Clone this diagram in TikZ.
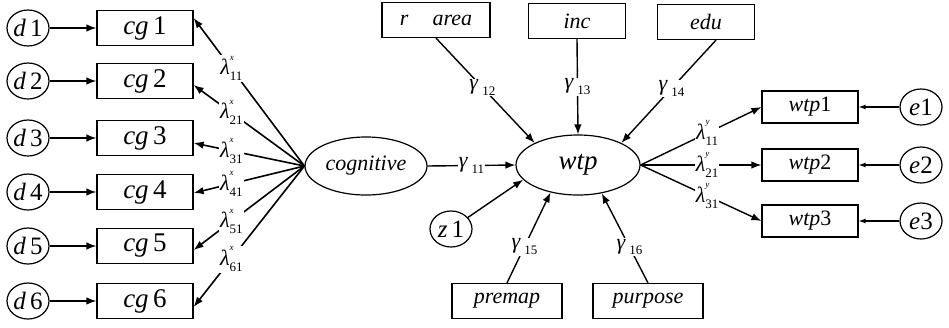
\documentclass[tikz,border=0pt]{standalone}
\usepackage{fontspec}
\setmainfont{Liberation Serif}
\usetikzlibrary{arrows.meta,shapes.geometric,calc}

% loading coefficient: lambda with superscript and subscript
\newcommand{\lamx}[2]{\textit{λ}\makebox[0pt][l]{\raisebox{1.45ex}{\fontsize{9}{9}\selectfont\textit{#1}}}\raisebox{-0.6ex}{\fontsize{13}{13}\selectfont #2}}
% path coefficient: gamma with subscript
\newcommand{\gam}[1]{\textit{γ}\,\raisebox{-0.55ex}{\fontsize{13}{13}\selectfont #1}}

\begin{document}
\begin{tikzpicture}[x=1pt,y=-1pt,
  obsbox/.style={draw, line width=1.2pt, minimum width=96pt, minimum height=35pt,
    inner sep=0pt, font=\fontsize{27}{27}\selectfont},
  smallbox/.style={obsbox, font=\fontsize{22}{22}\selectfont},
  errnode/.style={draw, ellipse, line width=1.2pt, minimum width=42pt,
    minimum height=36pt, inner sep=0pt, font=\fontsize{25}{25}\selectfont},
  latent/.style={draw, ellipse, line width=1.2pt, inner sep=0pt},
  arr/.style={-{Latex[length=10pt,width=7.5pt]}, line width=1.4pt},
  arrL/.style={-{Latex[length=10pt,width=7.5pt]}, line width=1.6pt},
  lab/.style={fill=white, inner sep=1pt, font=\fontsize{22}{22}\selectfont}]

\useasboundingbox (0,0) rectangle (949,327);

% latent variables
\node[latent, minimum width=122pt, minimum height=58pt,
  font=\fontsize{22}{22}\selectfont] (cog) at (366,166) {\textit{cognitive}};
\node[latent, minimum width=124pt, minimum height=60pt,
  font=\fontsize{27}{27}\selectfont] (wtp) at (578,165) {\textit{wtp}};

% indicators of the cognitive factor with their error terms
\foreach \i/\y/\s in {1/28/10,2/81/-4,3/138/-5,4/192/-1,5/246/-4,6/301/-6} {
  \node[errnode] (d\i) at (28,\y) {\textit{d}\,\i};
  \node[obsbox] (cg\i) at (145,\y) {\textit{cg}\,\i};
  \draw[arr] (d\i) -- (cg\i);
  \draw[arrL] (cog.west) -- node[lab, pos=0.66] {\lamx{x}{\i1}}
    ([yshift=\s pt]cg\i.east);
}

% exogenous covariates
\node[smallbox, minimum width=108pt] (rarea) at (436,20) {\textit{r\hspace{1.1em}area}};
\node[smallbox, minimum width=97pt] (inc) at (577,21) {\textit{inc}};
\node[smallbox, minimum width=97pt] (edu) at (706,22) {\textit{edu}};
\node[smallbox, minimum width=110pt] (premap) at (507,301) {\textit{premap}};
\node[smallbox, minimum width=110pt] (purpose) at (648,301) {\textit{purpose}};
\node[errnode] (z1) at (451,229) {\textit{z}\,1};

% structural paths into wtp
\draw[arr] (cog.east) -- node[lab] {\gam{11}} (wtp.west);
\draw[arr] (rarea.south) -- node[lab, pos=0.47] {\gam{12}} (wtp.153);
\draw[arr] (inc.south) -- node[lab, pos=0.5] {\gam{13}} (wtp.north);
\draw[arr] ([xshift=10pt]edu.south) -- node[lab, pos=0.47] {\gam{14}} (wtp.27);
\draw[arr] (z1) -- (wtp.195);
\draw[arr] (premap.north) -- node[lab, pos=0.4] {\gam{15}} (wtp.225);
\draw[arr] (purpose.north) -- node[lab, pos=0.4] {\gam{16}} (wtp.310);

% indicators of wtp with their error terms
\foreach \i/\y in {1/107,2/165,3/221} {
  \node[smallbox, minimum height=32pt] (wtp\i) at (810,\y) {\textit{wtp}\i};
  \node[errnode] (e\i) at (921,\y) {\textit{e}\i};
  \draw[-{Latex[length=7pt,width=5pt]}, line width=1.1pt] (e\i) -- (wtp\i);
  \draw[arr] (wtp.east) -- node[lab, pos=0.55] {\lamx{y}{\i1}} (wtp\i.west);
}
\end{tikzpicture}
\end{document}
